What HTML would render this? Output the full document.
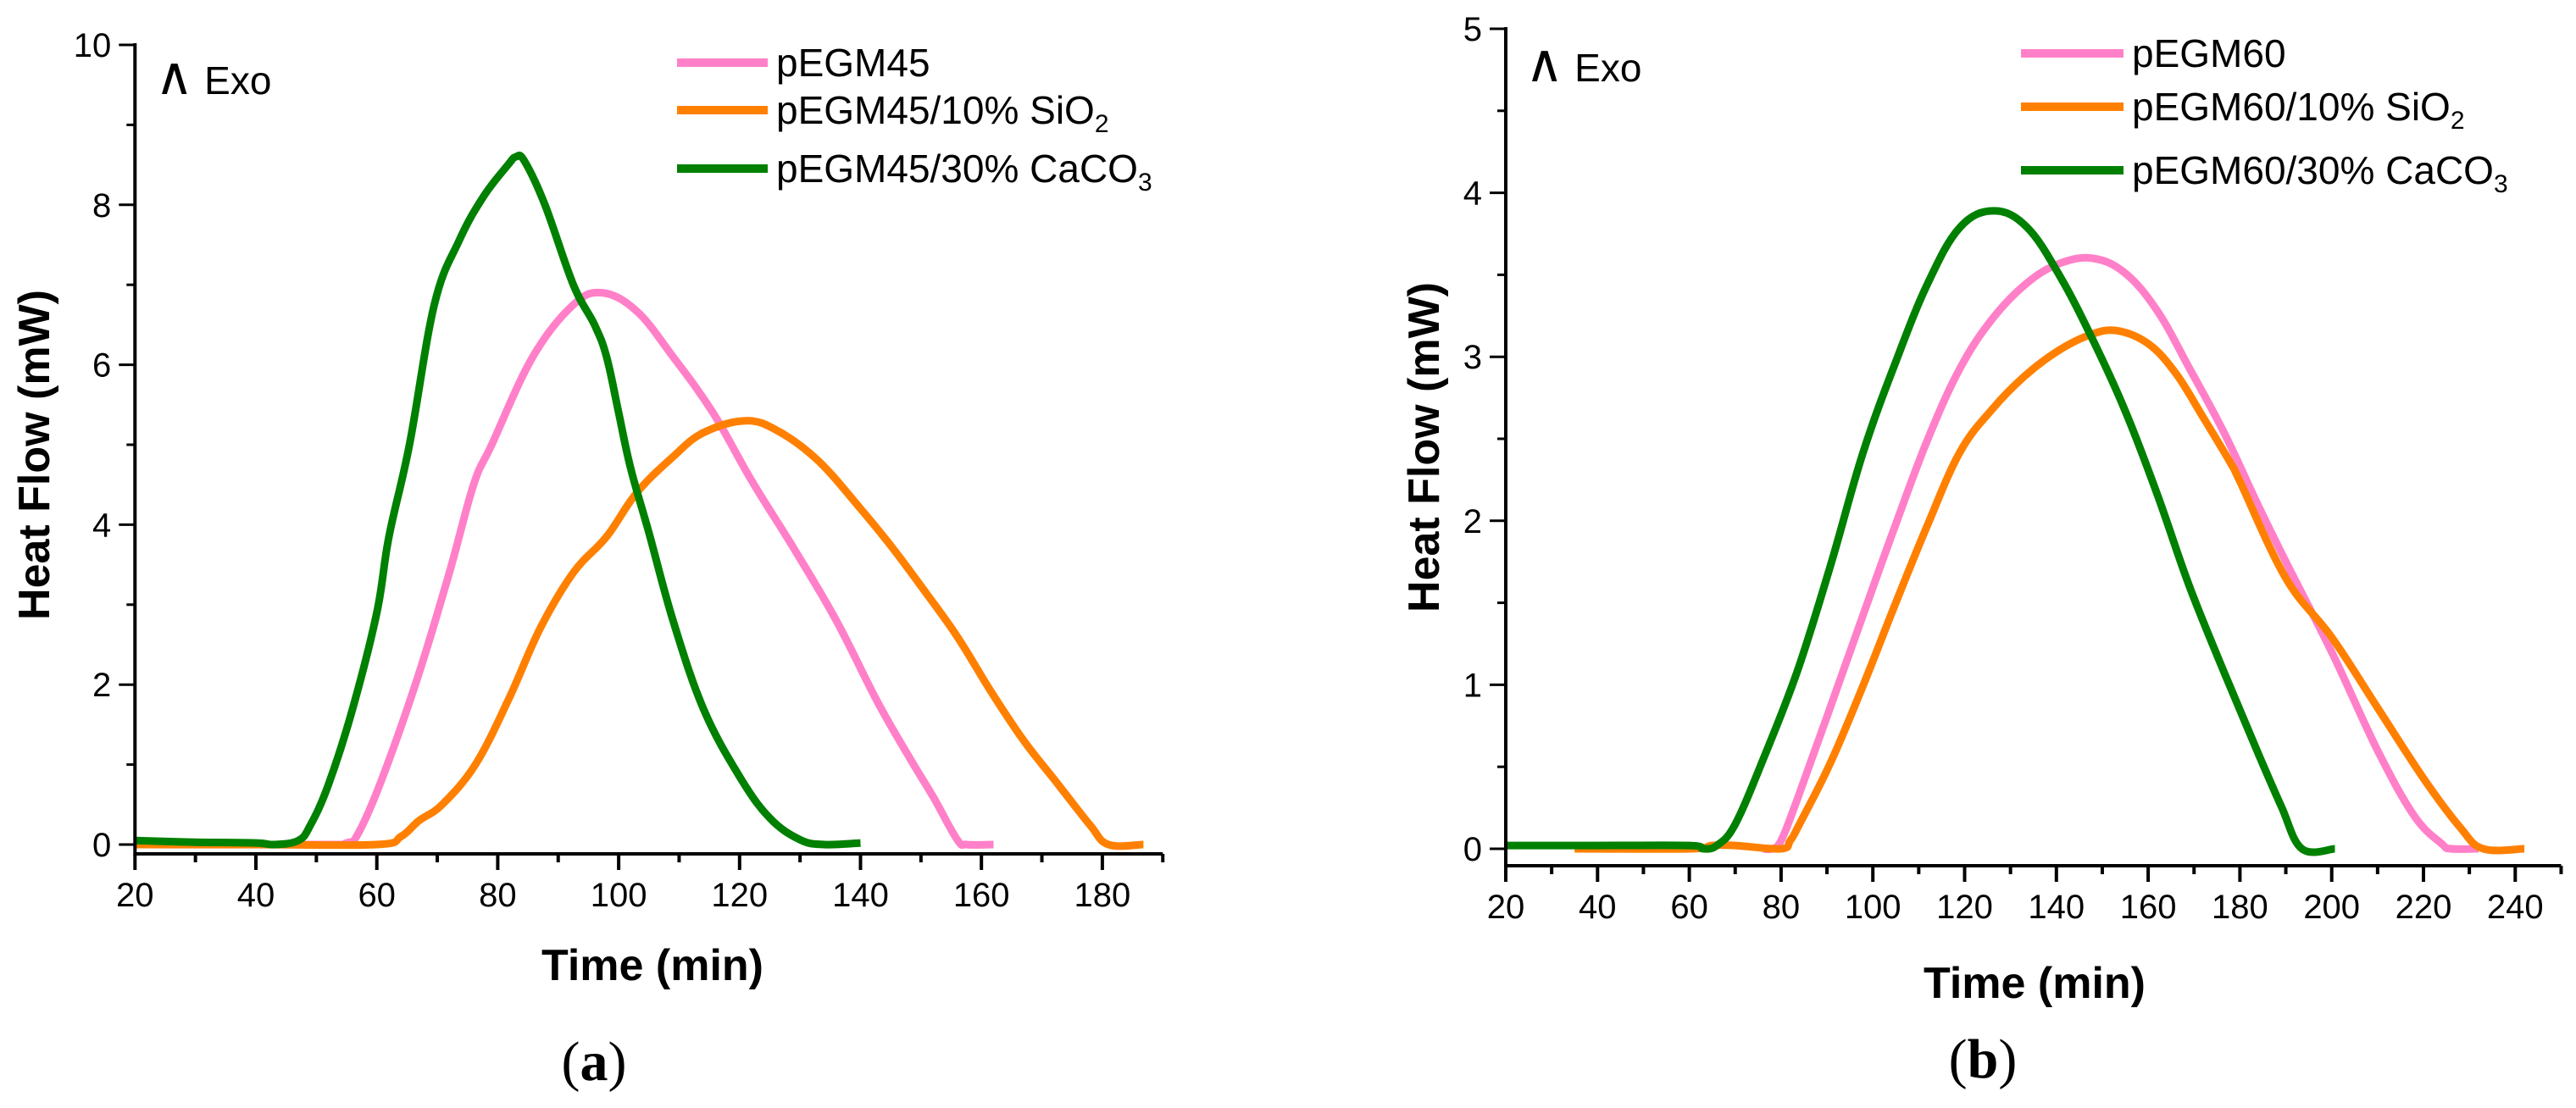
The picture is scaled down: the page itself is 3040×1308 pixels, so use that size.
<!DOCTYPE html>
<html><head><meta charset="utf-8"><style>
html,body{margin:0;padding:0;background:#fff;}
svg{display:block;font-family:"Liberation Sans",Arial,sans-serif;}
</style></head>
<body>
<svg id="fig" width="3040" height="1308" viewBox="0 0 3040 1308" xmlns="http://www.w3.org/2000/svg"></svg>
<script>
// ---- Chart (a) data ----
const a_pinkX  = [20,50,55,57,61,66.8,72,76,79,85.8,92.5,97.3,103,109,115.6,122,129,136,142.7,148,152,156,157.6,162];
const a_pinkY  = [0,0,0.02,0.15,0.85,2.1,3.4,4.5,5.0,6.1,6.75,6.9,6.67,6.1,5.4,4.55,3.7,2.8,1.8,1.1,0.6,0.06,0,0];
const a_orX    = [20,40,60,64,67,70.8,76.3,81.7,87,92.5,98,103,109,114,121,126.4,133,140,145.4,150.8,156,161.7,167,172.5,178,181,186.8];
const a_orY    = [0,0,0,0.1,0.3,0.5,1.0,1.8,2.7,3.4,3.85,4.4,4.85,5.15,5.3,5.17,4.8,4.2,3.7,3.15,2.6,1.9,1.3,0.77,0.24,0,0];
const a_grX    = [20,30,40,43,47,49,52,56,60,62,65.4,69.5,73.6,77.6,81.7,83,84.4,87.8,92.5,96,98,100,102,105,109,114,120,125,130,134,140];
const a_grY    = [0.05,0.03,0.02,0,0.05,0.24,0.75,1.7,2.9,3.85,5.0,6.75,7.55,8.1,8.5,8.6,8.55,8.0,7.0,6.5,6.1,5.4,4.7,3.9,2.8,1.7,0.85,0.33,0.06,0,0.02];
// ---- Chart (b) data ----
const b_pinkX  = [76,78,80,83.5,90.7,97.8,105,112,119,126,133.6,140.8,148,155,162,169,176.5,183.7,190,200,210,218,224,226,232];
const b_pinkY  = [0,0,0.05,0.3,0.86,1.42,1.98,2.5,2.93,3.23,3.45,3.57,3.6,3.51,3.28,2.93,2.54,2.11,1.75,1.2,0.6,0.2,0.03,0,0];
const b_orX    = [35,60,65,70,80,82,84,90.7,97.8,105,112,119,126,133,140,147,153,160,166,172,178,180,190,200,210,220,228,233,242];
const b_orY    = [0,0,0.02,0.02,0,0.05,0.15,0.52,0.99,1.5,1.98,2.42,2.68,2.88,3.03,3.13,3.16,3.08,2.9,2.63,2.35,2.24,1.65,1.29,0.86,0.43,0.13,0,0];
const b_grX    = [20,40,60,63,66,70,76.3,83.5,90.7,97.8,105,112,119,126.4,133.6,140.8,148,155,162,169,176.5,183.7,189,193.5,200.7];
const b_grY    = [0.02,0.02,0.02,0,0.02,0.15,0.56,1.08,1.72,2.41,2.97,3.45,3.79,3.89,3.79,3.49,3.1,2.67,2.16,1.6,1.08,0.6,0.26,0,0];
// ---- axis ticks ----
const a_xMajor = [20,40,60,80,100,120,140,160,180];
const a_xMinor = [30,50,70,90,110,130,150,170,190];
const a_yMajor = [0,2,4,6,8,10];
const a_yMinor = [1,3,5,7,9];
const b_xMajor = [20,40,60,80,100,120,140,160,180,200,220,240];
const b_xMinor = [30,50,70,90,110,130,150,170,190,210,230,250];
const b_yMajor = [0,1,2,3,4,5];
const b_yMinor = [0.5,1.5,2.5,3.5,4.5];
const a_names = ["pEGM45","pEGM45/10% SiO","pEGM45/30% CaCO"];
const b_names = ["pEGM60","pEGM60/10% SiO","pEGM60/30% CaCO"];
const subs = ["","2","3"];

const NS="http://www.w3.org/2000/svg";
const svg=document.getElementById('fig');
function mk(tag,attrs,parent){const e=document.createElementNS(NS,tag);for(const k in attrs)e.setAttribute(k,attrs[k]);(parent||svg).appendChild(e);return e;}
const COLORS=["#ff80c8","#ff8000","#008000"];

function smooth(pts){
  let d='M'+pts[0][0].toFixed(1)+','+pts[0][1].toFixed(1);
  for(let i=0;i<pts.length-1;i++){
    const p0=pts[Math.max(0,i-1)],p1=pts[i],p2=pts[i+1],p3=pts[Math.min(pts.length-1,i+2)];
    const t=0.18;
    const c1=[p1[0]+(p2[0]-p0[0])*t,p1[1]+(p2[1]-p0[1])*t];
    const c2=[p2[0]-(p3[0]-p1[0])*t,p2[1]-(p3[1]-p1[1])*t];
    d+=' C'+c1[0].toFixed(1)+','+c1[1].toFixed(1)+' '+c2[0].toFixed(1)+','+c2[1].toFixed(1)+' '+p2[0].toFixed(1)+','+p2[1].toFixed(1);
  }
  return d;
}

function chart(cfg){
  const g=mk('g',{});
  
  
  const sx=v=>cfg.x0+(v-cfg.xmin)*cfg.kx;
  const sy=v=>cfg.y0-(v)*cfg.ky;
  cfg.series.forEach((s,i)=>{
    const pts=s[0].map((x,j)=>[sx(x),sy(s[1][j])]);
    const p=mk('path',{d:smooth(pts),fill:'none',stroke:COLORS[i],'stroke-width':9,'stroke-linejoin':'round','stroke-linecap':'butt'},g);
    
    
  });
  const ax=mk('line',{x1:cfg.x0,y1:cfg.axY,x2:sx(cfg.xend),y2:cfg.axY,stroke:'#000','stroke-width':4},g);
  
  
  const ay=mk('line',{x1:cfg.x0,y1:sy(cfg.ytop)-2,x2:cfg.x0,y2:cfg.axY+2,stroke:'#000','stroke-width':4},g);
  
  
  cfg.xMajor.forEach(v=>{
    mk('line',{x1:sx(v),y1:cfg.axY,x2:sx(v),y2:cfg.axY+19,stroke:'#000','stroke-width':4},g);
    const t=mk('text',{x:sx(v),y:cfg.axY+62,'text-anchor':'middle','font-size':40,fill:'#000'},g);
    t.textContent=v;
    
    
  });
  cfg.xMinor.forEach(v=>mk('line',{x1:sx(v),y1:cfg.axY,x2:sx(v),y2:cfg.axY+10,stroke:'#000','stroke-width':4},g));
  cfg.yMajor.forEach(v=>{
    mk('line',{x1:cfg.x0-19,y1:sy(v),x2:cfg.x0,y2:sy(v),stroke:'#000','stroke-width':3},g);
    const t=mk('text',{x:cfg.x0-28,y:sy(v)+14,'text-anchor':'end','font-size':40,fill:'#000'},g);
    t.textContent=v;
    
    
  });
  cfg.yMinor.forEach(v=>mk('line',{x1:cfg.x0-10,y1:sy(v),x2:cfg.x0,y2:sy(v),stroke:'#000','stroke-width':3},g));
  const xt=mk('text',{x:cfg.xtX,y:cfg.xtY,'text-anchor':'middle','font-size':52,'font-weight':'bold',fill:'#000'},g);
  xt.textContent='Time (min)';
  
  
  const yt=mk('text',{x:0,y:0,transform:`translate(${cfg.ytX},${cfg.ytY}) rotate(-90)`,'text-anchor':'middle','font-size':52,'font-weight':'bold',fill:'#000'},g);
  yt.textContent='Heat Flow (mW)';
  
  
  const ex=mk('text',{x:cfg.exoX,y:cfg.exoY,'font-size':46,fill:'#000'},g);
  ex.innerHTML='<tspan font-size="62" font-family="DejaVu Sans, sans-serif">\u2227</tspan> Exo';
  
  
  cfg.names.forEach((n,i)=>{
    const ly=cfg.legY[i];
    const ll=mk('line',{x1:cfg.legX,y1:ly,x2:cfg.legX+cfg.legW,y2:ly,stroke:COLORS[i],'stroke-width':10},g);
    
    
    const t=mk('text',{x:cfg.legX+cfg.legW+10,y:ly+16,'font-size':46,fill:'#000'},g);
    t.textContent=n;
    if(subs[i]){const sp=mk('tspan',{'font-size':30,dy:10},t);sp.textContent=subs[i];}
    
    
  });
  const lab=mk('text',{x:cfg.labX,y:cfg.labY,'text-anchor':'middle','font-size':66,'font-family':'"Liberation Serif",serif',fill:'#000'},g);
  lab.innerHTML='(<tspan font-weight="bold">'+cfg.lab+'</tspan>)';
  
  
}

chart({id:'chart-a',x0:159.3,xmin:20,kx:7.135,xend:190,y0:997,ky:94.4,ytop:10,axY:1008,
  series:[[a_pinkX,a_pinkY],[a_orX,a_orY],[a_grX,a_grY]],
  xMajor:a_xMajor,xMinor:a_xMinor,yMajor:a_yMajor,yMinor:a_yMinor,
  xtX:770,xtY:1157,ytX:58,ytY:537,exoX:183,exoY:111,
  names:a_names,legX:799,legW:107,legY:[74,130,199],labX:701,labY:1275,lab:'a'});
chart({id:'chart-b',x0:1777,xmin:20,kx:5.415,xend:250,y0:1002,ky:193.6,ytop:5,axY:1022,
  series:[[b_pinkX,b_pinkY],[b_orX,b_orY],[b_grX,b_grY]],
  xMajor:b_xMajor,xMinor:b_xMinor,yMajor:b_yMajor,yMinor:b_yMinor,
  xtX:2401,xtY:1178,ytX:1698,ytY:528,exoX:1800,exoY:96,
  names:b_names,legX:2385,legW:121,legY:[63,126,201],labX:2340,labY:1272,lab:'b'});
</script>
</body></html>
